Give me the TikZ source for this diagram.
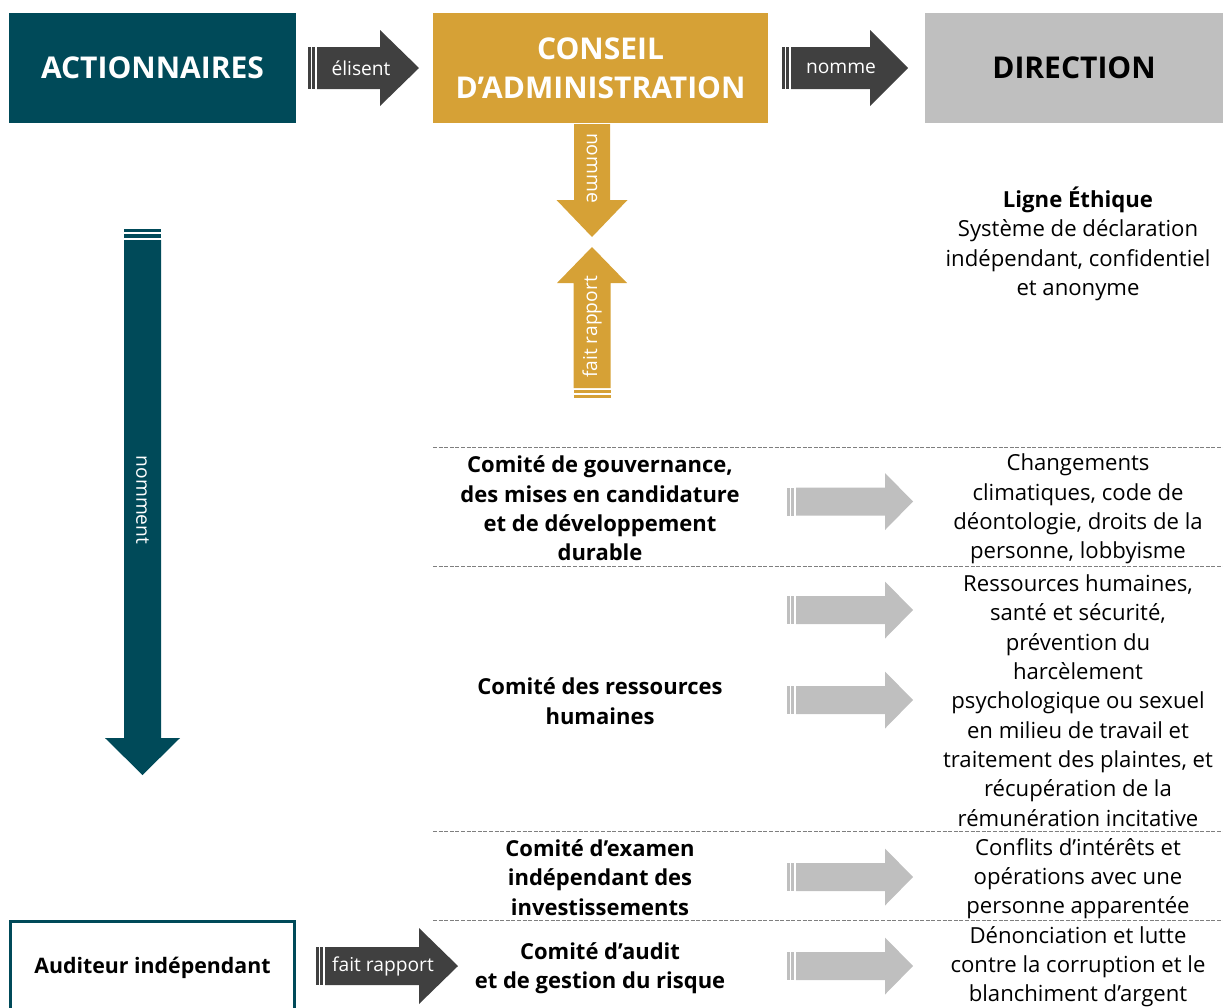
\documentclass[tikz,border=0pt]{standalone}
\usepackage{fontspec}
\setmainfont{Open Sans}
\usetikzlibrary{positioning}
\definecolor{actblue}{HTML}{004A59}
\definecolor{cagold}{HTML}{D6A136}
\definecolor{dirgray}{HTML}{BFBFBF}
\definecolor{darkarr}{HTML}{404040}
\definecolor{seprule}{HTML}{7F7F7F}

% block arrow pointing right: colour, x tail, x head, x tip, y centre, body half, head half
\newcommand{\rarrow}[7]{%
  \fill[#1] ({#2},{#5-#6}) rectangle ({#2+2.5},{#5+#6});
  \fill[#1] ({#2+4},{#5-#6}) rectangle ({#2+7},{#5+#6});
  \fill[#1] ({#2+9},{#5-#6}) -- ({#3},{#5-#6}) -- ({#3},{#5-#7}) -- ({#4},{#5})
    -- ({#3},{#5+#7}) -- ({#3},{#5+#6}) -- ({#2+9},{#5+#6}) -- cycle;
}
% block arrow, vertical: colour, y tail, y head, y tip, x centre, body half, head half
\newcommand{\varrow}[7]{%
  \fill[#1] ({#5-#6},{#2}) -- ({#5-#6},{#3}) -- ({#5-#7},{#3}) -- ({#5},{#4})
    -- ({#5+#7},{#3}) -- ({#5+#6},{#3}) -- ({#5+#6},{#2}) -- cycle;
}
% two thin bars across a vertical arrow: colour, x centre, half width, y1, y2, y3, y4
\newcommand{\vstripes}[7]{%
  \fill[#1] ({#2-#3},{#4}) rectangle ({#2+#3},{#5});
  \fill[#1] ({#2-#3},{#6}) rectangle ({#2+#3},{#7});
}

\begin{document}
\begin{tikzpicture}[x=0.75pt,y=-0.75pt,
  box/.style = {minimum height=82.5pt, inner sep=0pt, font=\bfseries\fontsize{22.5}{29}\selectfont, align=center},
  comite/.style = {font=\bfseries\fontsize{16.5}{22}\selectfont, align=center},
  txt/.style = {font=\fontsize{16.6}{22}\selectfont, align=center},
  lbl/.style = {text=white, inner sep=0pt, font=\fontsize{14.4}{16}\selectfont},
  sep/.style = {draw=seprule, line width=0.6pt, dash pattern=on 3pt off 1.2pt}]
\useasboundingbox (0,0) rectangle (1223,1007);
\clip (0,0) rectangle (1223,1007);

% top row
\node[box, fill=actblue, text=white, minimum width=215.25pt] (act) at (152.5,68) {ACTIONNAIRES};
\node[box, fill=cagold, text=white, minimum width=251.25pt] (conseil) at (600.5,68) {CONSEIL\\D’ADMINISTRATION};
\node[box, fill=dirgray, minimum width=223.5pt] (dir) at (1074,68) {DIRECTION};

\rarrow{darkarr}{308}{380}{419}{68}{21}{38}
\node[lbl] (elisent) at (361,68) {élisent};
\rarrow{darkarr}{782}{870}{908}{68}{21}{38}
\node[lbl] (nomme) at (841,68) {nomme};

% conseil <-> comites
\varrow{cagold}{124}{200}{237}{592}{18}{35.5}
\node[lbl, rotate=-90] (nommeb) at (592,168) {nomme};
\varrow{cagold}{388}{283}{247}{592}{18.5}{35}
\vstripes{cagold}{592}{18.5}{390}{392.5}{395}{398}
\node[lbl, rotate=90] (rapport) at (592,327) {fait rapport};

% actionnaires -> auditeur
\vstripes{actblue}{142.5}{18.5}{229}{231.5}{234}{237.5}
\varrow{actblue}{240}{738}{775}{142.5}{18.5}{37.5}
\node[lbl, rotate=-90] (nomment) at (142.5,500) {nomment};

% ligne ethique
\node[txt] (ligne) at (1078,244) {\textbf{Ligne Éthique}\\Système de déclaration\\indépendant, confidentiel\\et anonyme};

% separators
\foreach \y in {447,566,831,920}
  \draw[sep] (433,\y) -- (1223,\y);

% comites
\node[comite] (gouv) at (600,508.5) {Comité de gouvernance,\\des mises en candidature\\et de développement\\durable};
\node[txt] (gouvr) at (1078,509) {Changements\\climatiques, code de\\déontologie, droits de la\\personne, lobbyisme};
\rarrow{dirgray}{787}{885}{913}{501.5}{14}{28.5}

\node[comite] (rh) at (600,701) {Comité des ressources\\humaines};
\node[txt] (rhr) at (1078,700.5) {Ressources humaines,\\santé et sécurité,\\prévention du\\harcèlement\\psychologique ou sexuel\\en milieu de travail et\\traitement des plaintes, et\\récupération de la\\rémunération incitative};
\rarrow{dirgray}{787}{885}{913}{610}{14}{28.5}
\rarrow{dirgray}{787}{885}{913}{700}{14}{28.5}

\node[comite] (exam) at (600,877.5) {Comité d’examen\\indépendant des\\investissements};
\node[txt] (examr) at (1078,878.5) {Conflits d’intérêts et\\opérations avec une\\personne apparentée};
\rarrow{dirgray}{787}{885}{913}{877}{14}{28.5}

\node[comite] (audit) at (600,968) {Comité d’audit\\et de gestion du risque};
\node[txt] (auditr) at (1078,966.5) {Dénonciation et lutte\\contre la corruption et le\\blanchiment d’argent};
\rarrow{dirgray}{787}{885}{913}{966}{14}{28.5}

% auditeur
\draw[actblue, line width=2.25pt] (10.5,921.5) rectangle (294.5,1020);
\node[comite, font=\bfseries\fontsize{16}{22}\selectfont] (aud) at (152.5,968) {Auditeur indépendant};
\rarrow{darkarr}{316}{419}{458}{966}{19}{38}
\node[lbl] (fait) at (383,966) {fait rapport};
\end{tikzpicture}
\end{document}
